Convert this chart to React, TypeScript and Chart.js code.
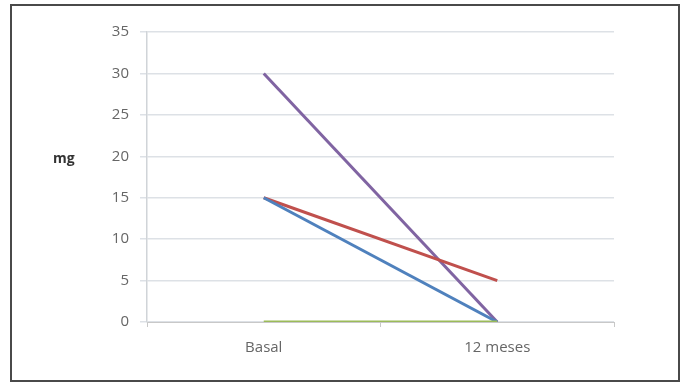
import React, { useEffect, useRef } from "react";
import { Chart, registerables } from "chart.js";

Chart.register(...registerables);

const categories = ["Basal", "12 meses"];
const seriesBlue = [15, 0];
const seriesRed = [15, 5];
const seriesGreen = [0, 0];
const seriesPurple = [30, 0];
const yTicks = [0, 5, 10, 15, 20, 25, 30, 35];
const yTitle = "mg";

const frame = {
  id: "frame",
  afterDraw(chart: any) {
    const ctx = chart.ctx;
    ctx.save();
    ctx.strokeStyle = "#4a4a4a";
    ctx.lineWidth = 2;
    ctx.strokeRect(11, 5, 668, 376);
    ctx.fillStyle = "#333333";
    ctx.font = "bold 14px 'Open Sans', sans-serif";
    ctx.textAlign = "left";
    ctx.textBaseline = "middle";
    ctx.fillText(yTitle, 53, 159);
    ctx.restore();
  },
};

export default function App() {
  const ref = useRef<HTMLCanvasElement>(null);
  useEffect(() => {
    document.body.style.margin = "0";
    const mk = (data: number[], color: string) => ({
      data,
      borderColor: color,
      backgroundColor: color,
      borderWidth: 3,
      pointRadius: 0,
      tension: 0,
    });
    const chart = new Chart(ref.current!, {
      type: "line",
      data: {
        labels: categories,
        datasets: [
          mk(seriesGreen, "#9bbb59"),
          mk(seriesBlue, "#4f81bd"),
          mk(seriesRed, "#c0504d"),
          mk(seriesPurple, "#8064a2"),
        ],
      },
      options: {
        responsive: false,
        animation: false,
        layout: { padding: { left: 0, right: 74, top: 32, bottom: 0 } },
        plugins: { legend: { display: false }, tooltip: { enabled: false } },
        scales: {
          x: {
            offset: true,
            grid: {
              offset: true,
              drawOnChartArea: false,
              drawTicks: true,
              tickLength: 5,
              color: "#c8c8c8",
            },
            border: { color: "#c8c8c8", width: 1 },
            ticks: {
              color: "#666666",
              font: { family: "'Open Sans', sans-serif", size: 15 },
              padding: 12,
              maxRotation: 0,
            },
            afterFit(scale: any) {
              scale.height = 61;
            },
          },
          y: {
            min: 0,
            max: 35,
            afterBuildTicks(scale: any) {
              scale.ticks = yTicks.map((v) => ({ value: v }));
            },
            grid: {
              color: "#dde1e6",
              lineWidth: 1.5,
              drawTicks: true,
              tickLength: 7,
            },
            border: { color: "#d0d4d8", width: 1.5 },
            ticks: {
              color: "#666666",
              font: { family: "'Open Sans', sans-serif", size: 15 },
              padding: 11,
            },
            afterFit(scale: any) {
              scale.width = 147;
            },
          },
        },
      },
      plugins: [frame],
    });
    return () => chart.destroy();
  }, []);
  return <canvas ref={ref} width={688} height={383} style={{ display: "block" }} />;
}
